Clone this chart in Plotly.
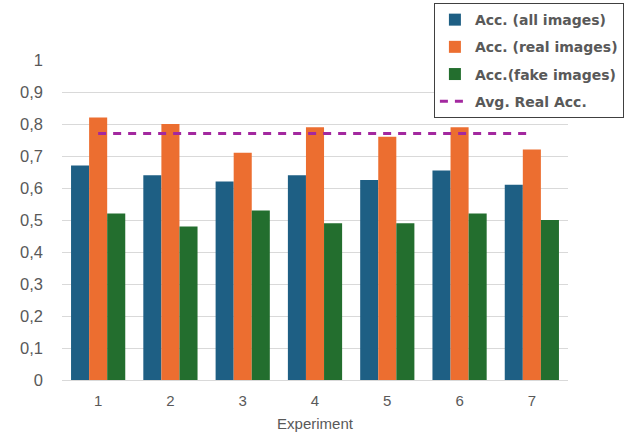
import plotly.graph_objects as go

experiments = ["1", "2", "3", "4", "5", "6", "7"]
acc_all = [0.67, 0.64, 0.62, 0.64, 0.625, 0.655, 0.61]
acc_real = [0.82, 0.80, 0.71, 0.79, 0.76, 0.79, 0.72]
acc_fake = [0.52, 0.48, 0.53, 0.49, 0.49, 0.52, 0.50]
avg_real = [0.77] * 7
y_ticks = [0, 0.1, 0.2, 0.3, 0.4, 0.5, 0.6, 0.7, 0.8, 0.9, 1]
y_labels = ["0", "0,1", "0,2", "0,3", "0,4", "0,5", "0,6", "0,7", "0,8", "0,9", "1"]

fig = go.Figure()
fig.add_trace(go.Bar(x=experiments, y=acc_all, name="Acc. (all images)",
                     marker=dict(color="#1e5f84", line=dict(width=0)), legendgroup="a"))
fig.add_trace(go.Bar(x=experiments, y=acc_real, name="Acc. (real images)",
                     marker=dict(color="#ec6e30", line=dict(width=0)), legendgroup="b"))
fig.add_trace(go.Bar(x=experiments, y=acc_fake, name="Acc.(fake images)",
                     marker=dict(color="#236e2e", line=dict(width=0)), legendgroup="c"))
fig.add_trace(go.Scatter(x=experiments, y=avg_real, name="Avg. Real Acc.", mode="lines",
                         line=dict(color="#a3289f", width=3, dash="8px,7px"), legendgroup="d"))

fig.update_layout(
    width=624, height=432,
    margin=dict(l=62, r=56, t=60, b=52, autoexpand=False),
    paper_bgcolor="white", plot_bgcolor="white",
    barmode="group", bargap=0.25, bargroupgap=0,
    font=dict(family="Liberation Sans, Arial", color="#595959"),
    showlegend=True,
    legend=dict(x=0.735, y=1.178, xanchor="left", yanchor="top",
                bgcolor="white", bordercolor="#404040", borderwidth=1,
                font=dict(family="DejaVu Sans", size=14, color="#595959", weight="bold"),
                tracegroupgap=6, itemwidth=30),
    xaxis=dict(title=dict(text="Experiment", font=dict(size=15), standoff=10),
               tickfont=dict(size=15), showline=True, linecolor="#d9d9d9", linewidth=1,
               ticks="", showgrid=False, ticklabelstandoff=7),
    yaxis=dict(range=[0, 1], tickvals=y_ticks, ticktext=y_labels,
               tickfont=dict(size=16.5), showgrid=True, gridcolor="#d9d9d9", gridwidth=1,
               zeroline=False, ticks="", ticklabelstandoff=18),
)

fig.write_html("out.html", config={"displayModeBar": False},
               post_script="document.body.style.margin='0';")
